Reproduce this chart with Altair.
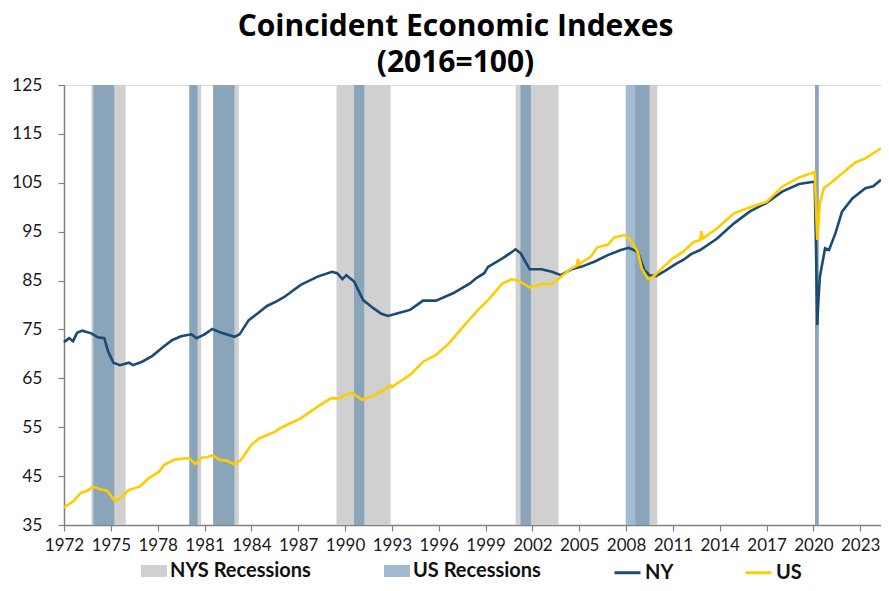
import altair as alt
import pandas as pd

# ---------------- data ----------------
nys_start = ["1973-10-01", "1980-01-15", "1981-07-25", "1989-06-15", "2000-12-05", "2008-08-05", "2020-02-10"]
nys_end   = ["1975-12-15", "1980-10-15", "1983-03-15", "1992-12-01", "2003-09-05", "2010-01-01", "2020-05-01"]
us_start  = ["1973-11-20", "1980-01-15", "1981-07-25", "1990-08-01", "2001-04-01", "2007-12-25", "2020-02-10"]
us_end    = ["1975-03-20", "1980-07-20", "1982-11-30", "1991-03-25", "2001-11-25", "2009-07-01", "2020-05-01"]

ny_dates = ["1972-01", "1972-05", "1972-08", "1972-11", "1973-03", "1973-10", "1974-03", "1974-08", "1974-11",
            "1975-03", "1975-08", "1976-03", "1976-06", "1977-01", "1977-09", "1978-04", "1978-12", "1979-07",
            "1980-03", "1980-07", "1981-01", "1981-07", "1982-02", "1982-12", "1983-04", "1983-11", "1984-06",
            "1985-01", "1985-08", "1986-02", "1987-03", "1988-04", "1989-03", "1989-07", "1989-11", "1990-02",
            "1990-08", "1991-03", "1991-11", "1992-05", "1992-10", "1993-07", "1994-03", "1995-01", "1995-11",
            "1996-12", "1998-01", "1998-06", "1998-12", "1999-03", "2000-02", "2000-08", "2000-12", "2001-04",
            "2001-07", "2001-11", "2002-08", "2003-04", "2003-11", "2004-07", "2005-03", "2006-01", "2006-11",
            "2007-09", "2008-03", "2008-10", "2009-03", "2009-07", "2009-12", "2010-07", "2011-04", "2011-09",
            "2012-03", "2012-10", "2013-11", "2014-12", "2015-12", "2017-01", "2018-01", "2019-02", "2020-01",
            "2020-02", "2020-03", "2020-04", "2020-05", "2020-06", "2020-10", "2021-01", "2021-06", "2021-11",
            "2022-07", "2023-05", "2023-11", "2024-05"]
ny_values = [72.4, 73.2, 72.6, 74.3, 74.75, 74.2, 73.4, 73.2, 70.45,
             68.2, 67.7, 68.2, 67.7, 68.4, 69.6, 71.15, 72.8, 73.6,
             74.0, 73.2, 74.0, 75.1, 74.3, 73.5, 74.0, 76.9, 78.3,
             79.8, 80.7, 81.6, 84.1, 85.8, 86.8, 86.5, 85.3, 86.1,
             84.8, 81.0, 79.3, 78.2, 77.75, 78.4, 79.0, 80.9, 80.9,
             82.4, 84.4, 85.5, 86.5, 87.8, 89.55, 90.6, 91.4, 90.6,
             89.2, 87.3, 87.3, 86.8, 86.1, 87.3, 87.85, 88.9, 90.2,
             91.25, 91.7, 90.9, 87.2, 86.1, 85.9, 87.0, 88.5, 89.2,
             90.4, 91.25, 93.6, 96.7, 99.1, 100.9, 103.2, 104.75, 105.2,
             105.2, 92.6, 75.9, 81.5, 85.8, 91.6, 91.25, 94.7, 99.1,
             101.8, 103.9, 104.3, 105.6]

us_dates = ["1972-01", "1972-08", "1973-02", "1973-07", "1973-11", "1974-05", "1974-10", "1975-04", "1975-08",
            "1976-03", "1976-11", "1977-06", "1978-02", "1978-06", "1979-02", "1980-01", "1980-06", "1980-11",
            "1981-03", "1981-07", "1982-01", "1982-06", "1982-12", "1983-05", "1984-01", "1984-07", "1985-03",
            "1985-08", "1985-11", "1987-03", "1988-04", "1989-02", "1989-08", "1990-06", "1991-02", "1991-11",
            "1992-09", "1992-12", "1993-01", "1993-07", "1994-03", "1995-01", "1995-11", "1996-09", "1997-10",
            "1998-07", "1999-03", "2000-02", "2000-09", "2001-02", "2001-11", "2002-08", "2003-04", "2003-11",
            "2004-07", "2004-11", "2004-12", "2005-01", "2005-04", "2005-10", "2006-03", "2006-11", "2007-04",
            "2007-12", "2008-04", "2008-10", "2009-01", "2009-06", "2009-10", "2010-06", "2011-01", "2011-09",
            "2012-05", "2012-10", "2012-11", "2012-12", "2013-11", "2014-12", "2015-12", "2017-01", "2018-01",
            "2019-02", "2020-01", "2020-02", "2020-04", "2020-06", "2020-09", "2021-02", "2021-11", "2022-09",
            "2023-05", "2024-05"]
us_values = [38.6, 39.8, 41.6, 42.0, 42.85, 42.3, 42.0, 40.0, 40.45,
             42.2, 42.85, 44.55, 45.9, 47.3, 48.4, 48.7, 47.5, 48.8,
             48.85, 49.25, 48.3, 48.2, 47.4, 48.3, 51.4, 52.7, 53.6,
             54.2, 54.8, 56.8, 59.2, 60.9, 60.9, 62.1, 60.6, 61.4,
             63.0, 63.6, 63.2, 64.3, 65.7, 68.4, 69.8, 72.2, 76.25,
             78.9, 81.0, 84.4, 85.25, 85.0, 83.6, 84.3, 84.3, 85.8,
             87.5, 88.0, 89.4, 88.3, 88.9, 89.9, 91.8, 92.3, 93.8,
             94.3, 93.4, 90.9, 87.5, 85.25, 85.8, 87.85, 89.55, 90.9,
             92.9, 93.3, 95.1, 93.6, 95.7, 98.75, 99.95, 101.1, 104.2,
             106.1, 107.1, 107.2, 93.3, 100.8, 103.9, 104.9, 106.9, 109.1,
             110.0, 112.05]

band_types = ["NYS Recessions", "US Recessions"]
band_colors = ["#D0D0D0", "#A2BBD1"]
overlap_color = "#8AA4B9"
series_names = ["NY", "US"]
series_colors = ["#1B4A72", "#FFCC00"]
year_ticks = list(range(1972, 2024, 3))
y_ticks = list(range(35, 126, 10))

# ---------------- tables ----------------
bands = pd.DataFrame({
    "start": nys_start + us_start,
    "end": nys_end + us_end,
    "type": [band_types[0]] * len(nys_start) + [band_types[1]] * len(us_start),
})

ov_s, ov_e = [], []
for a, b in zip(nys_start, nys_end):
    for c, d in zip(us_start, us_end):
        s, e = max(a, c), min(b, d)
        if s < e:
            ov_s.append(s)
            ov_e.append(e)
overlap = pd.DataFrame({"start": ov_s, "end": ov_e})

lines = pd.DataFrame({
    "date": ny_dates + us_dates,
    "value": ny_values + us_values,
    "series": [series_names[0]] * len(ny_dates) + [series_names[1]] * len(us_dates),
})

FONT = "Lato"

xscale = alt.Scale(domain=[alt.DateTime(year=1972, month=1, date=1),
                           alt.DateTime(year=2024, month=5, date=1)], nice=False)
yscale = alt.Scale(domain=[35, 125], nice=False, zero=False)

xaxis = alt.Axis(values=[alt.DateTime(year=y, month=1, date=1) for y in year_ticks], format="%Y",
                 tickSize=6, labelPadding=6, labelFontSize=17, labelFont=FONT, labelColor="#1a1a1a",
                 domainColor="#808080", domainWidth=1.5, tickColor="#808080", tickWidth=1.2,
                 grid=False, labelOverlap=False, labelFlush=False, title=None)
yaxis = alt.Axis(values=y_ticks, tickSize=6, labelPadding=16, labelFontSize=17.5, labelFont=FONT,
                 labelColor="#1a1a1a", domainColor="#808080", domainWidth=1.5, tickColor="#808080",
                 tickWidth=1.2, grid=False, labelFlush=False, title=None)

band_layer = alt.Chart(bands).mark_rect().encode(
    x=alt.X("start:T", scale=xscale, axis=xaxis),
    x2="end:T",
    y=alt.datum(125, scale=yscale, axis=yaxis),
    y2=alt.datum(35),
    fill=alt.Fill("type:N", scale=alt.Scale(domain=band_types, range=band_colors),
                  legend=alt.Legend(orient="none", legendX=77, legendY=473, direction="horizontal",
                                    title=None, symbolType="M-1,-0.46H1V0.46H-1Z", symbolSize=676,
                                    symbolStrokeWidth=0, labelFont=FONT, labelFontSize=20,
                                    labelFontWeight="bold", labelColor="#111111", labelOffset=3,
                                    columnPadding=73, labelLimit=300)),
)

overlap_layer = alt.Chart(overlap).mark_rect(fill=overlap_color).encode(
    x="start:T", x2="end:T", y=alt.datum(125), y2=alt.datum(35),
)

stroke_enc = alt.Stroke("series:N", scale=alt.Scale(domain=series_names, range=series_colors),
                        legend=alt.Legend(orient="none", legendX=549, legendY=473, direction="horizontal",
                                          title=None, symbolType="stroke", symbolSize=676,
                                          symbolStrokeWidth=3, labelFont=FONT, labelFontSize=20,
                                          labelFontWeight="bold", labelColor="#111111", labelOffset=3,
                                          columnPadding=65))

ny_layer = alt.Chart(lines).transform_filter(alt.datum.series == "NY").mark_line(strokeWidth=2.6).encode(
    x="date:T", y=alt.Y("value:Q"), stroke=stroke_enc,
)
us_layer = alt.Chart(lines).transform_filter(alt.datum.series == "US").mark_line(strokeWidth=2.6).encode(
    x="date:T", y=alt.Y("value:Q"), stroke=stroke_enc,
)

chart = alt.layer(band_layer, overlap_layer, ny_layer, us_layer).properties(
    width=817, height=440,
    title=alt.TitleParams(["Coincident Economic Indexes", "(2016=100)"], font="Open Sans", fontSize=30,
                          fontWeight="bold", color="#000000", anchor="middle", dx=-17, dy=4, offset=2,
                          lineHeight=36),
    autosize=alt.AutoSizeParams(type="none"),
    padding={"left": 56, "top": 77, "right": 0, "bottom": 58},
).configure_view(stroke=None).configure(background="white")

chart.save("out.html", embed_options={"renderer": "svg", "actions": False})
